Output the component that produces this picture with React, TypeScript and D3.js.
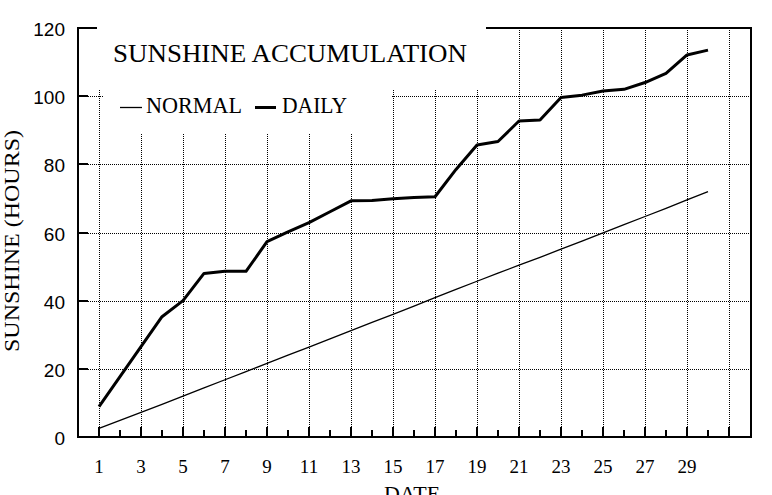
import React from "react";
import * as d3 from "d3";

const days = [1, 2, 3, 4, 5, 6, 7, 8, 9, 10, 11, 12, 13, 14, 15, 16, 17, 18, 19, 20, 21, 22, 23, 24, 25, 26, 27, 28, 29, 30];
const normalHours = [2.5, 4.9, 7.2, 9.6, 12.0, 14.4, 16.8, 19.2, 21.6, 24.0, 26.4, 28.8, 31.2, 33.6, 36.0, 38.4, 40.9, 43.3, 45.7, 48.1, 50.4, 52.7, 55.1, 57.5, 59.9, 62.3, 64.7, 67.1, 69.6, 72.0];
const dailyHours = [8.9, 17.7, 26.5, 35.3, 40.0, 48.0, 48.6, 48.6, 57.3, 60.2, 62.9, 66.1, 69.3, 69.4, 69.9, 70.3, 70.5, 78.5, 85.7, 86.7, 92.7, 93.0, 99.6, 100.3, 101.5, 102.0, 104.0, 106.7, 112.1, 113.5];
const yTicks = [0, 20, 40, 60, 80, 100, 120];
const xTickDays = [1, 2, 3, 4, 5, 6, 7, 8, 9, 10, 11, 12, 13, 14, 15, 16, 17, 18, 19, 20, 21, 22, 23, 24, 25, 26, 27, 28, 29, 30, 31];
const xLabelDays = [1, 3, 5, 7, 9, 11, 13, 15, 17, 19, 21, 23, 25, 27, 29];
const titleText = "SUNSHINE ACCUMULATION";
const legendNormal = "NORMAL";
const legendDaily = "DAILY";
const yTitle = "SUNSHINE (HOURS)";
const xTitle = "DATE";

const W = 772;
const H = 495;
const L = 78, R = 751, T = 28, B = 437;

export default function App() {
  const x = d3.scaleLinear().domain([0, 32]).range([78, 750]);
  const y = d3.scaleLinear().domain([0, 120]).range([B, T]);
  const line = d3
    .line<number>()
    .x((_, i) => x(days[i]))
    .y((v) => y(v));
  const crisp = (v: number) => Math.round(v) + 0.5;
  const serif = "'Liberation Serif', 'DejaVu Serif', serif";
  const sans = "'Liberation Sans', Arial, sans-serif";

  return (
    <svg
      width={W}
      height={H}
      style={{ position: "absolute", left: 0, top: 0, background: "#fff" }}
    >
      <rect x={0} y={0} width={W} height={H} fill="#fff" />
      {/* grid */}
      <g stroke="#000" strokeWidth={1} strokeDasharray="1 1">
        {yTicks
          .filter((v) => v > 0 && v < 120)
          .map((v) => (
            <line key={"h" + v} x1={L} x2={R} y1={crisp(y(v))} y2={crisp(y(v))} />
          ))}
        {xLabelDays.concat([31]).map((d) => (
          <line key={"v" + d} x1={crisp(x(d))} x2={crisp(x(d))} y1={T} y2={B} />
        ))}
      </g>
      {/* frame */}
      <rect x={L} y={T} width={R - L} height={B - T} fill="none" stroke="#000" strokeWidth={2} />
      {/* y ticks */}
      <g stroke="#000" strokeWidth={2}>
        {yTicks.map((v) => (
          <line key={"yt" + v} x1={L} x2={L + 10} y1={Math.round(y(v))} y2={Math.round(y(v))} />
        ))}
      </g>
      {/* x ticks */}
      <g stroke="#000" strokeWidth={2}>
        {xTickDays.map((d) => (
          <line
            key={"xt" + d}
            x1={Math.round(x(d))}
            x2={Math.round(x(d))}
            y1={B}
            y2={d % 2 === 1 ? B - 10 : B - 7}
          />
        ))}
      </g>
      {/* data lines */}
      <path d={line(normalHours) || ""} fill="none" stroke="#000" strokeWidth={1.3} />
      <path d={line(dailyHours) || ""} fill="none" stroke="#000" strokeWidth={3} strokeLinejoin="round" />
      {/* title / legend boxes */}
      <rect x={97} y={10} width={389} height={80} fill="#fff" />
      <rect x={103} y={90} width={288} height={43} fill="#fff" />
      <text x={113} y={62} fontFamily={serif} fontSize={25} textLength={354} lengthAdjust="spacingAndGlyphs" fill="#000">
        {titleText}
      </text>
      <line x1={120} x2={142} y1={107.5} y2={107.5} stroke="#000" strokeWidth={1.3} />
      <text x={146} y={113} fontFamily={serif} fontSize={23} textLength={96} lengthAdjust="spacingAndGlyphs" fill="#000">
        {legendNormal}
      </text>
      <line x1={255} x2={276} y1={107.5} y2={107.5} stroke="#000" strokeWidth={3} />
      <text x={282} y={113} fontFamily={serif} fontSize={23} textLength={65} lengthAdjust="spacingAndGlyphs" fill="#000">
        {legendDaily}
      </text>
      {/* y labels */}
      {yTicks.map((v) => (
        <text
          key={"yl" + v}
          x={65}
          y={Math.round(y(v)) + 7.5}
          textAnchor="end"
          fontFamily={sans}
          fontSize={19}
          fill="#000"
        >
          {v}
        </text>
      ))}
      {/* x labels */}
      {xLabelDays.map((d) => (
        <text
          key={"xl" + d}
          x={x(d)}
          y={473}
          textAnchor="middle"
          fontFamily={serif}
          fontSize={19}
          fill="#000"
        >
          {d}
        </text>
      ))}
      <text
        transform="translate(19,241) rotate(-90)"
        textAnchor="middle"
        fontFamily={serif}
        fontSize={22}
        textLength={222}
        lengthAdjust="spacingAndGlyphs"
        fill="#000"
      >
        {yTitle}
      </text>
      <text x={412} y={501} textAnchor="middle" fontFamily={serif} fontSize={22} fill="#000">
        {xTitle}
      </text>
    </svg>
  );
}
